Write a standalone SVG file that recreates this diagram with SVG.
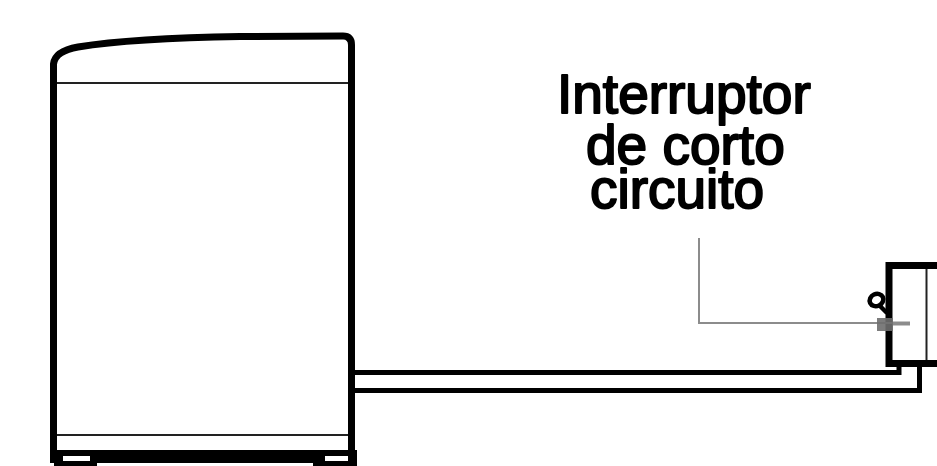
<svg xmlns="http://www.w3.org/2000/svg" width="937" height="466" viewBox="0 0 937 466">
  <style>
    .outline { fill: none; stroke: #000; stroke-width: 7; stroke-linejoin: round; }
    .thin { fill: none; stroke: #222; stroke-width: 2; }
    .hose { fill: none; stroke: #000; stroke-width: 5; stroke-linejoin: miter; }
    .leader { fill: none; stroke: #8c8c8c; stroke-width: 2; }
    .label { font-family: "Liberation Sans", Arial, Helvetica, sans-serif; font-size: 55px; fill: #000; stroke: #000; stroke-width: 2; stroke-linejoin: round; }
  </style>
  <rect width="937" height="466" fill="#fff"/>

  <!-- Washing machine cabinet -->
  <g id="washer">
    <path class="outline" d="M53.5,452 V64 Q55,51 78,47 C115,41 175,37.5 240,36.5 L343,36 Q351.5,36 351.5,45 V452"/>
    <line class="thin" x1="57" y1="83" x2="348" y2="83"/>
    <line class="thin" x1="57" y1="435" x2="348" y2="435"/>
    <!-- base plinth and feet -->
    <rect x="50" y="450" width="307" height="13" fill="#000"/>
    <rect x="54" y="462" width="43" height="4" fill="#000"/>
    <rect x="313" y="462" width="44" height="4" fill="#000"/>
    <rect x="63" y="456" width="27" height="5" fill="#fff"/>
    <rect x="325" y="456" width="23" height="5" fill="#fff"/>
  </g>

  <!-- Wall-mounted breaker box -->
  <g id="breaker-box">
    <path class="outline" d="M940,265.5 H889 V363.5 H940" style="stroke-linejoin:miter"/>
    <line class="thin" x1="926.5" y1="269" x2="926.5" y2="360"/>
    <!-- switch lever -->
    <ellipse cx="876.5" cy="300" rx="7" ry="6" transform="rotate(-25 876.5 300)" fill="none" stroke="#000" stroke-width="4.5"/>
    <line x1="879" y1="305" x2="887" y2="313" stroke="#000" stroke-width="4.5"/>
  </g>

  <!-- Connectors: supply cable and label leader -->
  <g id="connectors">
    <polyline class="hose" points="355,372.5 899,372.5 899,366"/>
    <polyline class="hose" points="355,390.5 919.5,390.5 919.5,366"/>
    <polyline class="leader" points="699,238 699,323 893,323"/>
    <rect x="877" y="318" width="16" height="13" fill="#6e6e6e" opacity="0.9"/>
    <line x1="893" y1="323.5" x2="910" y2="323.5" stroke="#8c8c8c" stroke-width="4"/>
  </g>

  <!-- Callout text -->
  <g id="label">
    <text class="label" x="557" y="113">Interruptor</text>
    <text class="label" x="586" y="164">de corto</text>
    <text class="label" x="590" y="208">circuito</text>
  </g>
</svg>
